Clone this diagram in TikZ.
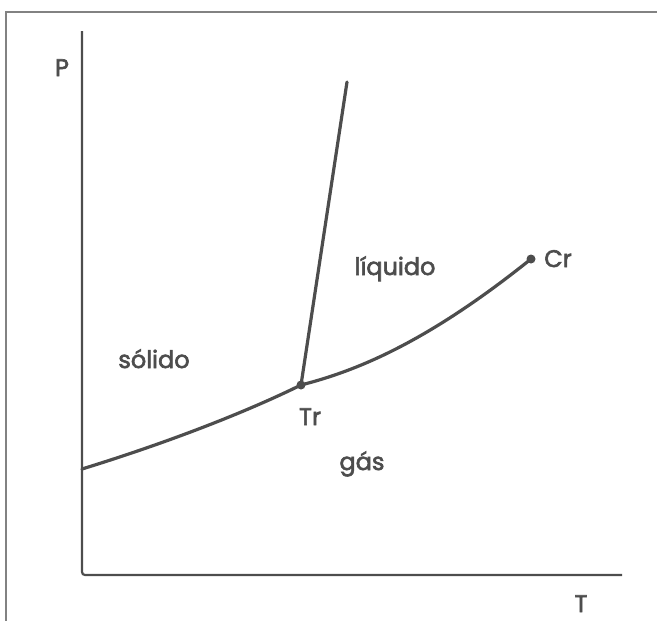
\documentclass[tikz,border=0pt]{standalone}
\usepackage{fontspec}
\newfontfamily\lblfont[FakeBold=2.5]{Poppins}
\definecolor{ink}{HTML}{4d4d4d}
\begin{document}
\begin{tikzpicture}[x=1pt,y=-1pt,
  frame/.style={draw=ink!70, line width=1.3pt},
  axis/.style={draw=ink, line width=2.2pt, rounded corners=3pt},
  curve/.style={draw=ink, line width=3.2pt, line cap=round},
  lbl/.style={text=ink, font=\fontsize{24}{27}\selectfont\lblfont, inner sep=0pt, anchor=base},
  dot/.style={circle, fill=ink, inner sep=0pt, minimum size=9pt}]
\useasboundingbox (0,0) rectangle (657,621);
\draw[frame] (6,621) -- (6,12) -- (657,12);
\coordinate (ytop) at (82,31);
\coordinate (xend) at (622,575);
\draw[axis] (ytop) |- (xend);
\coordinate (start) at (82,469);
\coordinate (Tr) at (301,385);
\coordinate (Cr) at (531,259);
\coordinate (mtop) at (347,82);
\draw[curve] (start) .. controls (160,445) and (240,415) .. (Tr)
  .. controls (360,370) and (430,340) .. (Cr);
\draw[curve] (Tr) -- (mtop);
\node[dot] (trdot) at (Tr) {};
\node[dot] (crdot) at (Cr) {};
\node[lbl] (P) at (62,76) {P};
\node[lbl] (T) at (581,612) {T};
\node[lbl] (trl) at (310,425) {Tr};
\node[lbl] (crl) at (558,267) {Cr};
\node[lbl] (gas) at (362,470) {gás};
\node[lbl] (sol) at (154,368) {sólido};
\node[lbl] (liq) at (395,275) {líquido};
\end{tikzpicture}
\end{document}
